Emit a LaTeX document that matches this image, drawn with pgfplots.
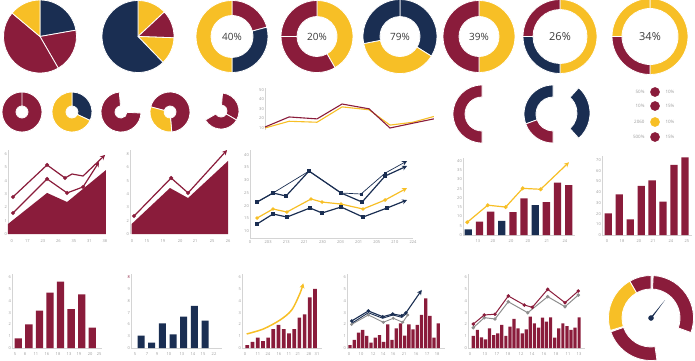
\documentclass[border=0pt]{standalone}
\usepackage{pgfplots}
\pgfplotsset{compat=1.18}
\usepackage{fontspec}
\setmainfont{Open Sans}
\usetikzlibrary{arrows.meta}
\definecolor{crim}{HTML}{8A1C3B}
\definecolor{navy}{HTML}{1A2E52}
\definecolor{yell}{HTML}{F7BF26}
\definecolor{axg}{HTML}{D4D4D4}
\definecolor{lblg}{HTML}{9A9A9A}
\definecolor{txt}{HTML}{3A3A3A}
\definecolor{gry}{HTML}{8E8E8E}
% ring segment: cx cy rin rout startangle endangle colour
\newcommand{\seg}[7]{\filldraw[#7, draw=white, line width=0.8pt] ({#1+#4*cos(#5)},{#2+#4*sin(#5)}) arc[start angle=#5, end angle=#6, radius=#4pt] -- ({#1+#3*cos(#6)},{#2+#3*sin(#6)}) arc[start angle=#6, end angle=#5, radius=#3pt] -- cycle;}
\pgfplotsset{mini/.style={scale only axis, anchor=south west, axis lines=left,
  axis line style={draw=axg, line width=0.6pt, -}, major tick length=0pt, tick style={draw=none},
  tick label style={font=\fontsize{4}{4}\selectfont, text=lblg, inner sep=1pt},
  clip=false, enlargelimits=false, /pgf/number format/assume math mode=true}}
\tikzset{arr/.style={-{Stealth[length=5pt,width=5pt]}}}
\begin{document}
\begin{tikzpicture}
% ---------- canvas with rings, pies and gauge ----------
\begin{axis}[at={(0pt,0pt)}, anchor=south west, scale only axis, width=695pt, height=360pt,
  xmin=0, xmax=695, ymin=0, ymax=360, hide axis, clip=false]
% pie 1
\seg{40}{323.5}{0.01}{36.5}{90}{10}{navy}
\seg{40}{323.5}{0.01}{36.5}{10}{-60}{crim}
\seg{40}{323.5}{0.01}{36.5}{-60}{-220}{crim}
\seg{40}{323.5}{0.01}{36.5}{-220}{-270}{yell}
% pie 2
\seg{138}{323.5}{0.01}{36}{90}{43}{yell}
\seg{138}{323.5}{0.01}{36}{43}{-2}{crim}
\seg{138}{323.5}{0.01}{36}{-2}{-46}{yell}
\seg{138}{323.5}{0.01}{36}{-46}{-270}{navy}
% 40%
\seg{232}{323.5}{21}{36}{90}{15}{crim}
\seg{232}{323.5}{21}{36}{15}{-90}{navy}
\seg{232}{323.5}{21}{36}{-90}{-270}{yell}
\node[font=\fontsize{10}{10}\selectfont, text=txt] at (232,323.5) {40\%};
% 20%
\seg{317}{323.5}{20}{36}{90}{-60}{yell}
\seg{317}{323.5}{20}{36}{-60}{-180}{crim}
\seg{317}{323.5}{20}{36}{-180}{-270}{crim}
\node[font=\fontsize{10}{10}\selectfont, text=txt] at (317,323.5) {20\%};
% 79%
\seg{400}{323.5}{20}{37}{90}{-32}{navy}
\seg{400}{323.5}{20}{37}{-32}{-169}{yell}
\seg{400}{323.5}{20}{37}{-169}{-270}{navy}
\node[font=\fontsize{10}{10}\selectfont, text=txt] at (400,323.5) {79\%};
% 39%
\seg{479}{323.5}{20}{36}{90}{-90}{yell}
\seg{479}{323.5}{20}{36}{-90}{-270}{crim}
\node[font=\fontsize{10}{10}\selectfont, text=txt] at (479,323.5) {39\%};
% 26%
\seg{560}{323.5}{27}{37}{90}{-90}{yell}
\seg{560}{323.5}{27}{37}{-90}{-180}{navy}
\seg{560}{323.5}{27}{37}{-180}{-270}{crim}
\node[font=\fontsize{11}{11}\selectfont, text=txt] at (560,323.5) {26\%};
% 34%
\seg{650}{323.5}{28}{38}{90}{-90}{yell}
\seg{650}{323.5}{28}{38}{-90}{-180}{crim}
\seg{650}{323.5}{28}{38}{-180}{-270}{yell}
\node[font=\fontsize{11}{11}\selectfont, text=txt] at (650,323.5) {34\%};
% small rings, row 2
\seg{22}{248}{6}{20}{90}{-270}{crim}
\seg{72}{248}{6}{20}{90}{-25}{navy}
\seg{72}{248}{6}{20}{-25}{-270}{yell}
\seg{121}{248}{6}{20}{357}{95}{crim}
\seg{170}{248}{6}{20}{165}{-85}{crim}
\seg{170}{248}{6}{20}{-85}{-195}{yell}
\seg{221}{249}{6}{18}{85}{-30}{crim}
\seg{221}{249}{6}{18}{-30}{-150}{crim}
% half rings
\seg{482}{246}{17}{29}{270}{90}{crim}
\seg{553}{246}{17}{29}{200}{90}{navy}
\seg{553}{246}{17}{29}{270}{200}{crim}
\seg{556}{247}{21}{34}{48}{-48}{navy}
% legend dots
\addplot[only marks, mark=*, mark size=4.6pt, crim, mark options={draw=none}] coordinates {(655,268) (655,254) (655,223)};
\addplot[only marks, mark=*, mark size=4.6pt, yell, mark options={draw=none}] coordinates {(655,238)};
\node[anchor=east, font=\fontsize{4.5}{5}\selectfont, text=lblg] at (648,268) {50\%};
\node[anchor=east, font=\fontsize{4.5}{5}\selectfont, text=lblg] at (648,254) {10\%};
\node[anchor=east, font=\fontsize{4.5}{5}\selectfont, text=lblg] at (648,238) {2060};
\node[anchor=east, font=\fontsize{4.5}{5}\selectfont, text=lblg] at (648,223) {500\%};
\node[anchor=west, font=\fontsize{4.5}{5}\selectfont, text=lblg] at (662,268) {10\%};
\node[anchor=west, font=\fontsize{4.5}{5}\selectfont, text=lblg] at (662,254) {15\%};
\node[anchor=west, font=\fontsize{4.5}{5}\selectfont, text=lblg] at (662,238) {10\%};
\node[anchor=west, font=\fontsize{4.5}{5}\selectfont, text=lblg] at (662,223) {15\%};
% gauge
\seg{651}{42}{29}{42.5}{87}{-20}{crim}
\seg{651}{42}{29}{42.5}{120}{90}{crim}
\seg{651}{42}{29}{42.5}{197}{120}{yell}
\seg{651}{42}{29}{42.5}{278}{199}{crim}
\fill[navy] (649.3,41) -- (665,60) -- (652.7,43) -- cycle;
\addplot[only marks, mark=*, mark size=2.5pt, navy] coordinates {(651,42)};
\end{axis}

% ---------- small line chart (row 2) ----------
\begin{axis}[mini, at={(265pt,230pt)}, width=171pt, height=42pt, xmin=0, xmax=7.1, ymin=7.9, ymax=51.7,
  ytick={10,20,30,40,50}, xtick=\empty, x axis line style={draw=none}]
\addplot[yell, line width=1.1pt] coordinates {(0,10) (1.0,17) (2.16,16) (3.2,32) (4.32,29) (5.19,13) (6.14,16) (7.01,22)};
\addplot[crim, line width=1.1pt] coordinates {(0,11) (1.0,21.5) (2.16,19.5) (3.2,35) (4.32,30) (5.19,10) (6.14,15) (7.01,19.5)};
\end{axis}

% ---------- chart A ----------
\begin{axis}[mini, at={(8pt,126pt)}, width=98pt, height=84pt, xmin=0, xmax=6.32, ymin=0, ymax=6.3,
  xtick={0.25,1.25,2.25,3.25,4.25,5.25,6.25}, xticklabels={0,17,23,26,35,31,38},
  ytick={0,...,6}, x axis line style={draw=none}, xticklabel style={yshift=-4pt}]
\addplot[fill=crim, draw=none] coordinates {(0,0.75) (2.52,3.08) (3.81,2.4) (6.32,4.8)} \closedcycle;
\addplot[crim, line width=1.2pt, mark=*, mark size=1.3pt, mark indices={1,2,3,4}, arr] coordinates {(0.32,1.58) (2.52,4.13) (3.81,3.08) (4.84,3.53) (5.87,5.4)};
\addplot[crim, line width=1.2pt, mark=*, mark size=1.3pt, mark indices={1,2,3}, arr] coordinates {(0.32,2.78) (2.52,5.18) (3.68,4.2) (4.13,4.5) (4.84,4.35) (6.26,5.93)};
\end{axis}

% ---------- chart B ----------
\begin{axis}[mini, at={(130pt,126pt)}, width=100pt, height=84pt, xmin=0, xmax=6.13, ymin=0, ymax=6.3,
  xtick={0.12,1.04,2.02,3.07,3.99,5.03,6.01}, xticklabels={0,15,19,20,21,25,26},
  ytick={0,...,6}, yticklabels={0,2,3,4,5,6,8}, x axis line style={draw=none}, xticklabel style={yshift=-4pt}]
\addplot[fill=crim, draw=none] coordinates {(0.1,0.75) (2.45,3.45) (3.56,2.7) (6.01,5.48)} \closedcycle;
\addplot[crim, line width=1.2pt, mark=*, mark size=1.3pt, mark indices={1,2,3}, arr] coordinates {(0.25,1.35) (2.52,4.2) (3.56,3.08) (5.95,6.3)};
\end{axis}

% ---------- chart C ----------
\begin{axis}[mini, at={(250pt,122pt)}, width=163pt, height=88pt, xmin=0, xmax=9, ymin=7.24, ymax=41.9,
  xtick={0,...,9}, xticklabels={0,203,213,221,230,203,201,205,210,224},
  ytick={10,15,...,40}, xticklabel style={yshift=-1pt}]
\addplot[navy, line width=0.7pt, mark=square*, mark size=1pt, mark indices={1,2,3,4,5,6}, arr] coordinates {(0.39,21.4) (1.27,24.96) (3.26,33.6) (5.03,24.96) (6.13,24.57) (7.46,32.8) (8.67,37.56)};
\addplot[navy, line width=1.2pt, mark=square*, mark size=1.1pt, mark indices={1,2,3,4,5,6,7}, arr] coordinates {(0.39,21.4) (1.27,24.96) (1.99,23.78) (3.26,33.6) (5.03,24.96) (6.19,21.4) (7.46,31.65) (8.67,35.6)};
\addplot[yell, line width=1.2pt, mark=*, mark size=1.1pt, mark indices={1,2,3,4,5,6,7,8}, arr] coordinates {(0.39,15.1) (1.27,18.66) (2.04,17.48) (3.37,22.6) (3.98,21.4) (5.03,20.6) (6.24,18.66) (7.46,22.2) (8.67,26.9)};
\addplot[navy, line width=1.2pt, mark=square*, mark size=1.1pt, mark indices={1,2,3,4,5,6,7,8}, arr] coordinates {(0.39,12.76) (1.27,16.7) (2.04,15.5) (3.31,19.06) (3.98,17.1) (5.03,19.45) (6.24,15.5) (7.57,19.06) (8.67,22.2)};
\end{axis}

% ---------- chart D ----------
\begin{axis}[mini, at={(463pt,125pt)}, width=112pt, height=77pt, xmin=0.525, xmax=10.57, ymin=0, ymax=41.6,
  ytick={0,5,...,40}, xtick={1.86,3.2,4.83,6.35,8.05,9.67}, xticklabels={13,20,20,20,21,24}, xticklabel style={yshift=-3pt}]
\addplot[ybar, bar width=7.3pt, bar shift=0pt, fill=navy, draw=none] coordinates {(1,3.1) (4,7.7) (7,16.2)};
\addplot[ybar, bar width=7.3pt, bar shift=0pt, fill=crim, draw=none] coordinates {(2,7.2) (3,12.6) (5,12.3) (6,19.8) (8,17.7) (9,28.3) (10,27.0)};
\addplot[yell, line width=1.2pt, mark=*, mark size=1.3pt, mark indices={1,2,3,4,5}, arr] coordinates {(0.91,6.9) (2.74,16.1) (4.35,15.1) (5.88,25.2) (7.49,24.7) (10.03,39.3)};
\end{axis}

% ---------- chart E ----------
\begin{axis}[mini, at={(602pt,125pt)}, width=90pt, height=79pt, xmin=0.425, xmax=8.64, ymin=0, ymax=73.8,
  ytick={0,10,...,70}, xtick={0.88,2.25,3.8,5.08,6.72,8.18}, xticklabels={0,18,20,21,24,25}, xticklabel style={yshift=-3pt}]
\addplot[ybar, bar width=7.3pt, bar shift=0pt, fill=crim, draw=none] coordinates {(1,20.3) (2,38.0) (3,14.7) (4,46.0) (5,51.0) (6,31.1) (7,65.4) (8,72.6)};
\end{axis}

% ---------- chart F ----------
\begin{axis}[mini, at={(12pt,12pt)}, width=90pt, height=74pt, xmin=0.404, xmax=8.92, ymin=0, ymax=6.27,
  ytick={0,...,6}, xtick={0.69,1.63,2.67,3.71,4.76,5.8,6.74,7.79,8.64}, xticklabels={5,8,11,16,18,13,19,20,25}, xticklabel style={yshift=-3pt}]
\addplot[ybar, bar width=7.3pt, bar shift=0pt, fill=crim, draw=none] coordinates {(1,0.82) (2,2.0) (3,3.16) (4,4.69) (5,5.62) (6,3.3) (7,4.55) (8,1.72)};
\end{axis}

% ---------- chart G ----------
\begin{axis}[mini, at={(131pt,12pt)}, width=91pt, height=74pt, xmin=0.063, xmax=8.59, ymin=0, ymax=6.27,
  ytick={0,...,6}, yticklabels={0,3,6,7,8,9,\textcolor{crim}{8}}, xtick={0.44,1.56,2.5,3.62,4.84,5.87,6.81,7.84}, xticklabels={5,7,9,10,13,14,15,22}, xticklabel style={yshift=-3pt}]
\addplot[ybar, bar width=7pt, bar shift=0pt, fill=navy, draw=none] coordinates {(1,1.04) (2,0.45) (3,2.09) (4,1.16) (5,2.65) (6,3.58) (7,2.31)};
\end{axis}

% ---------- chart H ----------
\begin{axis}[mini, at={(242pt,12pt)}, width=80pt, height=74pt, xmin=-0.017, xmax=15.34, ymin=0, ymax=6.27,
  ytick={0,...,6}, xtick={0.56,3.05,4.97,7.08,9.0,10.73,12.84,14.38}, xticklabels={0,11,24,16,11,21,28,31}, xticklabel style={yshift=-3pt}]
\addplot[ybar, bar width=3.7pt, bar shift=0pt, fill=crim, draw=none] coordinates {(1,0.25) (2,0.53) (3,0.87) (4,0.59) (5,0.87) (6,1.61) (7,1.95) (8,1.61) (9,1.25) (10,1.61) (11,2.57) (12,2.86) (13,4.3) (14,5.0)};
\addplot[yell, line width=1.5pt, smooth, arr] coordinates {(0.88,1.19) (4.07,1.61) (7.28,2.37) (9.52,3.22) (11.12,4.64) (11.75,5.48)};
\end{axis}

% ---------- chart I ----------
\begin{axis}[mini, at={(347pt,12pt)}, width=98pt, height=74pt, xmin=0.286, xmax=23.6, ymin=0, ymax=6.27,
  ytick={0,...,6}, xtick={0.76,3.62,6.48,8.86,11.24,13.86,16.71,19.33,21.71}, xticklabels={0,10,12,14,16,21,16,17,18}, xticklabel style={yshift=-3pt}]
\addplot[ybar, bar width=3.3pt, bar shift=0pt, fill=crim, draw=none] coordinates {(1,0.25) (2,0.68) (3,1.30) (4,1.53) (5,1.02) (6,0.45) (7,0.87) (8,1.10) (9,0.53) (10,2.0) (11,0.68) (12,1.67) (13,2.09) (14,1.04) (15,2.0) (16,1.58) (17,1.95) (18,2.8) (19,4.2) (20,2.73) (21,0.87) (22,2.09)};
\addplot[gry, line width=0.9pt, mark=*, mark size=1pt] coordinates {(1.40,2.0) (5.36,2.8) (8.93,2.18) (11.31,2.52) (13.55,2.18) (14.74,2.8)};
\addplot[navy, line width=0.9pt] coordinates {(1.40,2.09) (5.36,2.99) (8.79,2.52) (11.17,2.8) (13.31,2.6) (14.33,2.88)};
\addplot[navy, line width=1.1pt, mark=*, mark size=1.1pt, mark indices={1,2,3,4,5,6}, arr] coordinates {(1.40,2.29) (5.36,3.14) (8.79,2.65) (11.17,2.88) (13.31,2.74) (14.33,2.99) (18.07,4.92)};
\end{axis}

% ---------- chart J ----------
\begin{axis}[mini, at={(468pt,12pt)}, width=117pt, height=74pt, xmin=-0.3, xmax=28.44, ymin=0, ymax=6.27,
  ytick={0,...,6}, xtick={0.19,3.87,6.82,9.53,12.72,15.42,18.37,21.32,24.27,26.97}, xticklabels={0,13,17,18,12,14,16,18,11,13}, xticklabel style={yshift=-3pt}]
\addplot[ybar, bar width=3.2pt, bar shift=0pt, fill=crim, draw=none] coordinates {(1,1.02) (2,1.53) (3,0.91) (4,0.74) (5,1.67) (6,1.10) (7,1.25) (8,1.95) (9,1.02) (10,1.81) (11,2.46) (12,1.67) (13,1.25) (14,1.58) (15,2.65) (16,2.09) (17,1.72) (18,2.57) (19,2.23) (20,2.60) (21,0.87) (22,1.67) (23,2.09) (24,1.86) (25,1.53) (26,1.72) (27,2.60)};
\addplot[gry, line width=1pt, mark=*, mark size=1.2pt] coordinates {(1,1.72) (3.70,2.57) (6.33,2.46) (9.60,3.92) (14.37,2.99) (19.28,4.35) (23.53,3.50) (26.80,4.49)};
\addplot[crim, line width=1pt, mark=*, mark size=1.2pt] coordinates {(1,2.03) (3.70,2.80) (6.33,2.86) (9.60,4.41) (13.53,3.64) (15.50,3.45) (19.28,4.97) (23.53,3.84) (26.80,4.83)};
\end{axis}

\pgfresetboundingbox
\path[use as bounding box] (0pt,0pt) rectangle (695pt,360pt);
\end{tikzpicture}
\end{document}
